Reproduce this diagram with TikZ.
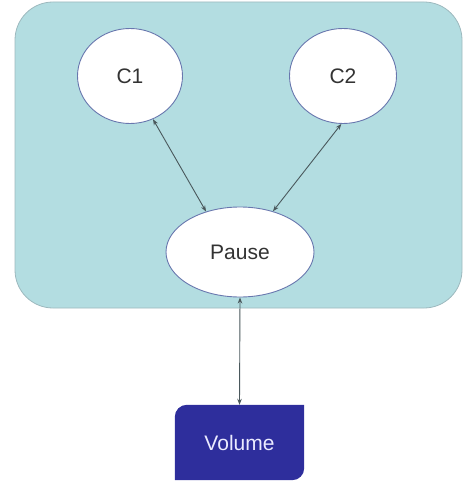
\documentclass[tikz,border=0pt]{standalone}
\usepackage{fontspec}
\setmainfont{Liberation Sans}
\usetikzlibrary{arrows.meta, shapes.geometric, backgrounds}
\definecolor{boxteal}{HTML}{B3DDE1}
\definecolor{boxrim}{HTML}{9DB9BE}
\definecolor{ovalrim}{HTML}{6877AE}
\definecolor{volblue}{HTML}{2E2E9C}
\definecolor{linkgray}{HTML}{4A585C}
\definecolor{labelgray}{HTML}{333333}

\tikzset{
  oval/.style={ellipse, draw=ovalrim, line width=0.9pt, fill=white, inner sep=0pt,
    text=labelgray, font=\fontsize{21}{25}\selectfont},
  link/.style={draw=linkgray, line width=0.9pt,
    {Stealth[length=6pt,width=4.5pt]}-{Stealth[length=6pt,width=4.5pt]}}
}

\begin{document}
\begin{tikzpicture}[x=1pt, y=-1pt]
\useasboundingbox (0,0) rectangle (474,489);
% pod frame
\draw[boxrim, fill=boxteal, line width=0.8pt, rounded corners=38pt] (15,2) rectangle (462,308);
% containers and pause
\node[oval, minimum width=105pt, minimum height=95pt] (c1) at (130,76) {C1};
\node[oval, minimum width=107pt, minimum height=95pt] (c2) at (343,76) {C2};
\node[oval, minimum width=148pt, minimum height=90pt] (pause) at (240,252) {Pause};
% volume
\node[minimum width=129pt, minimum height=75pt, inner sep=0pt, text=white!92!blue,
  font=\fontsize{21}{25}\selectfont] (vol) at (239.5,442.5) {Volume};
\begin{scope}[on background layer]
\fill[volblue] (vol.south west) [rounded corners=12pt] -- (vol.north west) [sharp corners]
  -- (vol.north east) [rounded corners=12pt] -- (vol.south east) [sharp corners] -- cycle;
\end{scope}
% links
\draw[link] (c1.298) -- (pause.130);
\draw[link] (c2.268) -- (pause.51);
\draw[link] (pause.south) -- (vol.north);
\end{tikzpicture}
\end{document}
